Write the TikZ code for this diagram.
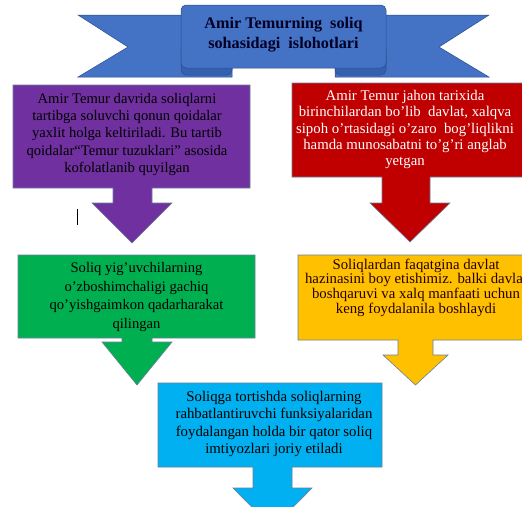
\documentclass[tikz,border=0pt]{standalone}
\usepackage{fontspec}
\setmainfont{Liberation Serif}
\definecolor{cpurple}{HTML}{7030A0}
\definecolor{cred}{HTML}{C00000}
\definecolor{cgreen}{HTML}{00B050}
\definecolor{corange}{HTML}{FFC000}
\definecolor{cblue}{HTML}{00B0F0}
\definecolor{cbanner}{HTML}{4472C4}
\definecolor{cbannerdark}{HTML}{3560B0}
\definecolor{cedge}{HTML}{6A7F99}
\begin{document}
\begin{tikzpicture}[x=1pt,y=-1pt,
  boxtext/.style={inner sep=0pt, align=center},
  callout/.style={fill=#1, draw=cedge, line width=0.6pt},
  ribbon/.style={fill=cbanner, draw=cbannerdark!80!black, line width=0.5pt}]
\useasboundingbox (0,0) rectangle (522,506);
\clip (0,0) rectangle (522,506);
\fill[white] (0,0) rectangle (522,506);
% banner
\draw[ribbon] (78,15) -- (232,15) -- (232,77) -- (78,77) -- (128,47) -- cycle;
\draw[ribbon] (335,15) -- (489,15) -- (439,47) -- (489,77) -- (335,77) -- cycle;
\draw[fill=cbannerdark, draw=cbannerdark!80!black, line width=0.5pt, rounded corners=5pt] (181,45) rectangle (232,75);
\draw[fill=cbannerdark, draw=cbannerdark!80!black, line width=0.5pt, rounded corners=5pt] (335,45) rectangle (386,75);
\draw[ribbon, rounded corners=5pt] (181,5) rectangle (386,68);
\node[boxtext, font=\fontsize{16.2}{20}\selectfont\bfseries, text=black!85!blue] (title) at (283.5,35) {Amir Temurning\ \ soliq\\sohasidagi\ \ islohotlari};
% callouts
\draw[callout=cpurple] (13,85) -- (250,85) -- (250,188) -- (152,188) -- (152,203) -- (172,203) -- (132,243) -- (92,203) -- (113,203) -- (113,188) -- (13,188) -- cycle;
\draw[callout=cred] (292,83) -- (524,83) -- (524,177) -- (430,177) -- (430,203) -- (450,203) -- (410,242) -- (370,203) -- (382,203) -- (382,177) -- (292,177) -- cycle;
\draw[callout=cgreen] (18,255) -- (255,255) -- (255,338) -- (152,338) -- (152,342) -- (172,342) -- (137,385) -- (102,342) -- (122,342) -- (122,338) -- (18,338) -- cycle;
\draw[callout=corange] (298,255) -- (533,255) -- (533,340) -- (433,340) -- (433,355) -- (448,355) -- (415.5,385) -- (383,355) -- (398,355) -- (398,340) -- (298,340) -- cycle;
\draw[callout=cblue] (158,383) -- (382,383) -- (382,467) -- (292,467) -- (292,488) -- (312,488) -- (272.5,528) -- (233,488) -- (253,488) -- (253,467) -- (158,467) -- cycle;
% texts
\node[boxtext, font=\fontsize{14.6}{17.3}\selectfont, text=black] (p) at (127,134.5)
  {Amir Temur davrida soliqlarni\\tartibga soluvchi qonun qoidalar\\yaxlit holga keltiriladi. Bu tartib\\qoidalar“Temur tuzuklari” asosida\\kofolatlanib quyilgan};
\node[boxtext, font=\fontsize{14.8}{16.4}\selectfont, text=white] (r) at (405,129.5)
  {Amir Temur jahon tarixida\\birinchilardan bo’lib\ \ davlat, xalqva\\sipoh o’rtasidagi o’zaro\ \ bog’liqlikni\\hamda munosabatni to’g’ri anglab\\yetgan};
\node[boxtext, font=\fontsize{14.6}{18.7}\selectfont, text=black] (g) at (136.5,297)
  {Soliq yig’uvchilarning\\o’zboshimchaligi gachiq\\qo’yishgaimkon qadarharakat\\qilingan};
\node[boxtext, font=\fontsize{14.8}{14.6}\selectfont, text=black!85!red] (o) at (416,287.5)
  {Soliqlardan faqatgina davlat\\hazinasini boy etishimiz. balki davlat\\boshqaruvi va xalq manfaati uchun\\keng foydalanila boshlaydi};
\node[boxtext, font=\fontsize{14.8}{17.3}\selectfont, text=black] (b) at (274,424)
  {Soliqga tortishda soliqlarning\\rahbatlantiruvchi funksiyalaridan\\foydalangan holda bir qator soliq\\imtiyozlari joriy etiladi};
% text cursor
\draw[black, line width=0.9pt] (77,209) -- (77,225);
\end{tikzpicture}
\end{document}
